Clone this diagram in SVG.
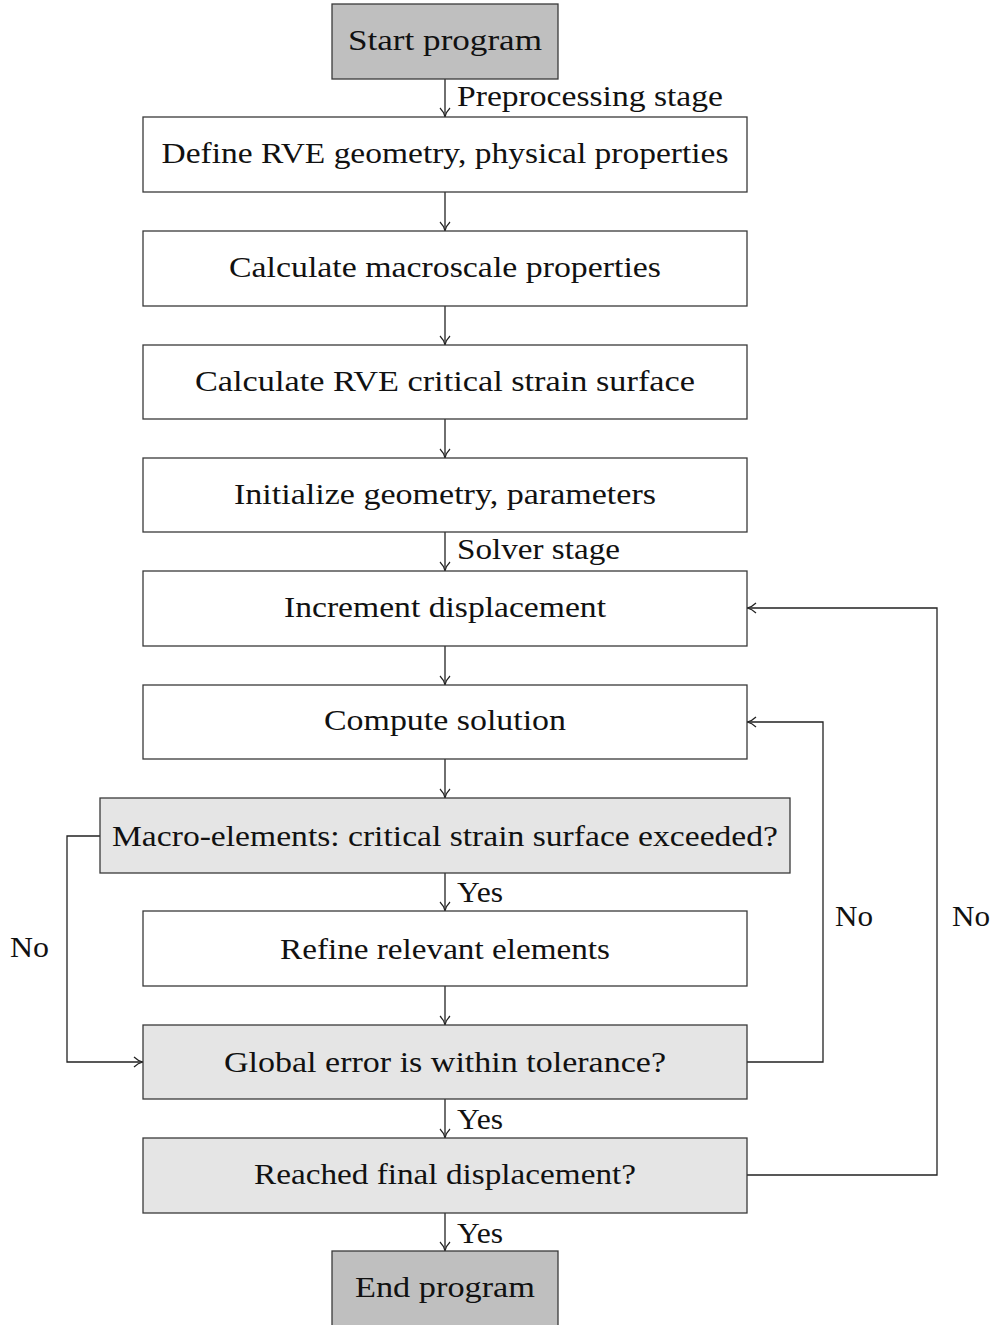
<svg xmlns="http://www.w3.org/2000/svg" width="995" height="1325" viewBox="0 0 995 1325">
<style>
.b{stroke:#3a3a3a;stroke-width:1.3}
.w{fill:#ffffff}
.d{fill:#bfbfbf}
.g{fill:#e5e5e5}
text{font-family:"Liberation Serif","DejaVu Serif",serif;font-size:29px;fill:#111}
.c{text-anchor:middle}
.e{stroke:#222;stroke-width:1.3;fill:none}
</style>
<defs>
<marker id="ah" viewBox="0 0 10 12" refX="10" refY="6" markerWidth="10" markerHeight="12" markerUnits="userSpaceOnUse" orient="auto">
<path d="M1,1 Q5,5 10,6 Q5,7 1,11" fill="none" stroke="#222" stroke-width="1.2"/>
</marker>
</defs>
<rect width="995" height="1325" fill="#ffffff"/>
<g id="connectors">
<path class="e" d="M445,79 V117" marker-end="url(#ah)"/>
<path class="e" d="M445,192 V231" marker-end="url(#ah)"/>
<path class="e" d="M445,306 V345" marker-end="url(#ah)"/>
<path class="e" d="M445,419 V458" marker-end="url(#ah)"/>
<path class="e" d="M445,532 V571" marker-end="url(#ah)"/>
<path class="e" d="M445,646 V685" marker-end="url(#ah)"/>
<path class="e" d="M445,759 V798" marker-end="url(#ah)"/>
<path class="e" d="M445,873 V911" marker-end="url(#ah)"/>
<path class="e" d="M445,986 V1025" marker-end="url(#ah)"/>
<path class="e" d="M445,1099 V1138" marker-end="url(#ah)"/>
<path class="e" d="M445,1213 V1251" marker-end="url(#ah)"/>
<path class="e" d="M100,836 H67 V1062 H143" marker-end="url(#ah)"/>
<path class="e" d="M747,1062 H823 V722 H747" marker-end="url(#ah)"/>
<path class="e" d="M747,1175 H937 V608 H747" marker-end="url(#ah)"/>
<text x="457" y="106" textLength="266" lengthAdjust="spacingAndGlyphs">Preprocessing stage</text>
<text x="457" y="559" textLength="163" lengthAdjust="spacingAndGlyphs">Solver stage</text>
<text x="457" y="902" textLength="46" lengthAdjust="spacingAndGlyphs">Yes</text>
<text x="457" y="1129" textLength="46" lengthAdjust="spacingAndGlyphs">Yes</text>
<text x="457" y="1243" textLength="46" lengthAdjust="spacingAndGlyphs">Yes</text>
<text x="10" y="957" textLength="39" lengthAdjust="spacingAndGlyphs">No</text>
<text x="835" y="926" textLength="38" lengthAdjust="spacingAndGlyphs">No</text>
<text x="952" y="926" textLength="38" lengthAdjust="spacingAndGlyphs">No</text>
</g>
<g id="start"><rect class="b d" x="332" y="4" width="226" height="75"/><text class="c" x="445" y="50" textLength="194" lengthAdjust="spacingAndGlyphs">Start program</text></g>
<g id="define"><rect class="b w" x="143" y="117" width="604" height="75"/><text class="c" x="445" y="163" textLength="567" lengthAdjust="spacingAndGlyphs">Define RVE geometry, physical properties</text></g>
<g id="macro"><rect class="b w" x="143" y="231" width="604" height="75"/><text class="c" x="445" y="277" textLength="432" lengthAdjust="spacingAndGlyphs">Calculate macroscale properties</text></g>
<g id="rve"><rect class="b w" x="143" y="345" width="604" height="74"/><text class="c" x="445" y="391" textLength="500" lengthAdjust="spacingAndGlyphs">Calculate RVE critical strain surface</text></g>
<g id="init"><rect class="b w" x="143" y="458" width="604" height="74"/><text class="c" x="445" y="504" textLength="422" lengthAdjust="spacingAndGlyphs">Initialize geometry, parameters</text></g>
<g id="increment"><rect class="b w" x="143" y="571" width="604" height="75"/><text class="c" x="445" y="617" textLength="322" lengthAdjust="spacingAndGlyphs">Increment displacement</text></g>
<g id="compute"><rect class="b w" x="143" y="685" width="604" height="74"/><text class="c" x="445" y="730" textLength="242" lengthAdjust="spacingAndGlyphs">Compute solution</text></g>
<g id="check-macro"><rect class="b g" x="100" y="798" width="690" height="75"/><text class="c" x="445" y="846" textLength="666" lengthAdjust="spacingAndGlyphs">Macro-elements: critical strain surface exceeded?</text></g>
<g id="refine"><rect class="b w" x="143" y="911" width="604" height="75"/><text class="c" x="445" y="959" textLength="330" lengthAdjust="spacingAndGlyphs">Refine relevant elements</text></g>
<g id="global"><rect class="b g" x="143" y="1025" width="604" height="74"/><text class="c" x="445" y="1072" textLength="442" lengthAdjust="spacingAndGlyphs">Global error is within tolerance?</text></g>
<g id="reached"><rect class="b g" x="143" y="1138" width="604" height="75"/><text class="c" x="445" y="1184" textLength="382" lengthAdjust="spacingAndGlyphs">Reached final displacement?</text></g>
<g id="end"><rect class="b d" x="332" y="1251" width="226" height="80"/><text class="c" x="445" y="1297" textLength="180" lengthAdjust="spacingAndGlyphs">End program</text></g>
</svg>
